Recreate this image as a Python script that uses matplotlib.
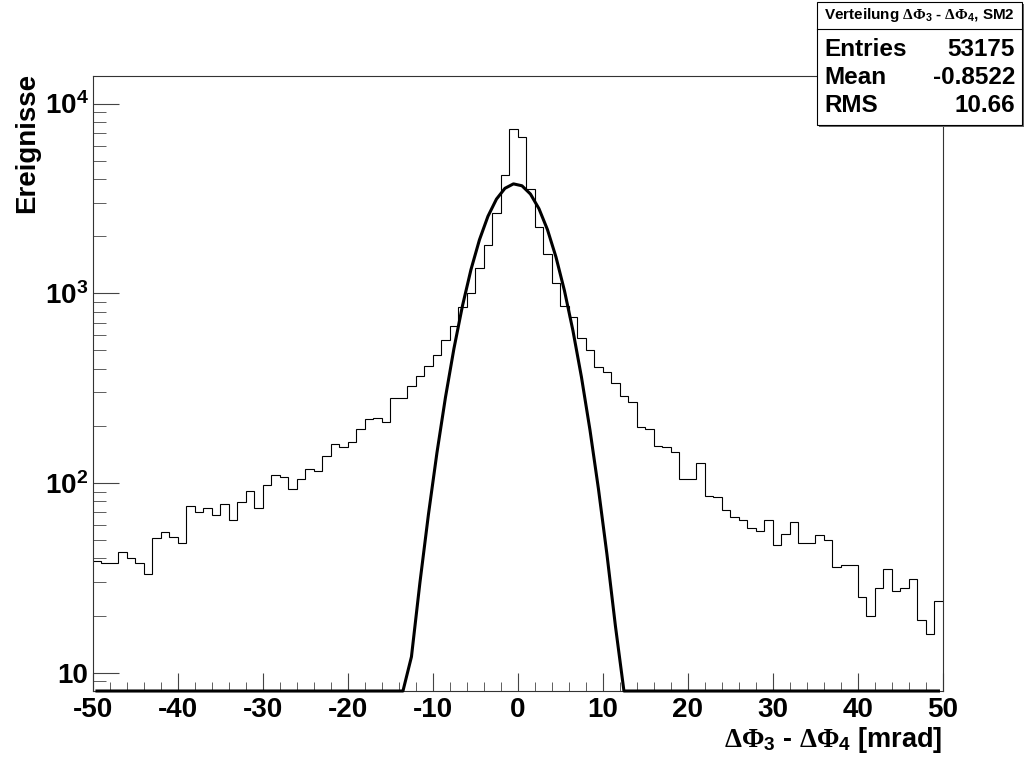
import numpy as np
import matplotlib
matplotlib.use("Agg")
import matplotlib.pyplot as plt
from matplotlib.patches import Rectangle
from matplotlib.lines import Line2D
from matplotlib.ticker import FixedLocator, LogLocator, NullFormatter, MultipleLocator

W, H = 1026, 758

plt.rcParams['font.family'] = ['Liberation Sans', 'DejaVu Sans']
plt.rcParams['font.weight'] = 'bold'
plt.rcParams['axes.unicode_minus'] = False
plt.rcParams['mathtext.fontset'] = 'custom'
plt.rcParams['mathtext.rm'] = 'Liberation Serif'
plt.rcParams['mathtext.it'] = 'Liberation Serif:italic'
plt.rcParams['mathtext.bf'] = 'Liberation Sans:bold'

# histogram: 100 bins of 1 mrad from -50 to 50
bin_edges = np.arange(-50, 51, 1)
counts = [39, 38, 38, 43, 40, 38, 33, 51, 55, 52,
          48, 76, 70, 74, 68, 77, 64, 79, 91, 74,
          98, 110, 107, 93, 105, 119, 115, 138, 160, 155,
          165, 192, 218, 221, 210, 279, 282, 325, 366, 415,
          471, 567, 673, 847, 1008, 1352, 1799, 2643, 4190, 7330,
          6700, 3533, 2244, 1606, 1130, 860, 753, 579, 502, 410,
          386, 336, 289, 268, 198, 192, 157, 155, 145, 105,
          105, 127, 85, 84, 72, 66, 64, 58, 56, 64,
          47, 54, 62, 48, 48, 53, 50, 36, 37, 37,
          25, 20, 28, 35, 27, 28, 31, 19, 16, 24]

# gaus fit
fit_amp = 3780.0
fit_mean = -0.3
fit_sigma = 3.6

stats_title = r'Verteilung $\Delta\Phi_{\mathbf{3}}$ - $\Delta\Phi_{\mathbf{4}}$, SM2'
stats_names = ['Entries', 'Mean', 'RMS']
stats_values = ['53175', '-0.8522', '10.66']

y_min, y_max = 8.0, 13980.0


def fx(px):
    return px / W


def fy(py):
    return 1 - py / H


fig = plt.figure(figsize=(W / 100, H / 100), dpi=100)
fig.patch.set_facecolor('white')
ax = fig.add_axes([fx(92.7), fy(691), (942.7 - 92.7) / W, (691 - 76) / H])

ax.stairs(counts, bin_edges, color='black', lw=0.8, baseline=None)

fit_x = np.arange(-49.5, 50, 1.0)
fit_y = fit_amp * np.exp(-0.5 * ((fit_x - fit_mean) / fit_sigma) ** 2)
fit_y = np.maximum(fit_y, y_min)
ax.plot(fit_x, fit_y, color='black', lw=2.2, solid_joinstyle='round', clip_on=False, zorder=5)

ax.set_yscale('log')
ax.set_xlim(-50, 50)
ax.set_ylim(y_min, y_max)

ax.xaxis.set_major_locator(MultipleLocator(10))
ax.xaxis.set_minor_locator(MultipleLocator(2))
ax.yaxis.set_major_locator(FixedLocator([10, 100, 1000, 10000]))
ax.yaxis.set_minor_locator(LogLocator(base=10, subs=np.arange(2, 10)))
ax.yaxis.set_minor_formatter(NullFormatter())
ax.set_yticklabels(['10', r'$\mathbf{10^{2}}$', r'$\mathbf{10^{3}}$', r'$\mathbf{10^{4}}$'])

ax.tick_params(which='both', direction='in', top=False, right=False, labelsize=20, color='#444444')
ax.tick_params(axis='x', which='major', length=13, pad=4)
ax.tick_params(axis='x', which='minor', length=6.5)
ax.tick_params(axis='y', which='major', length=18.5, pad=3)
ax.tick_params(axis='y', which='minor', length=9.2)
for lab in ax.get_xticklabels() + ax.get_yticklabels():
    lab.set_fontweight('bold')
for sp in ax.spines.values():
    sp.set_linewidth(0.8)
    sp.set_color('#333333')

fig.text(fx(27), fy(73), 'Ereignisse', rotation=90, ha='center', va='top', fontsize=20, fontweight='bold')
fig.text(fx(942), fy(740), r'$\Delta\Phi_{\mathbf{3}}$ - $\Delta\Phi_{\mathbf{4}}$ [mrad]',
         ha='right', va='center', fontsize=19.5, fontweight='bold')

# stats box
bx0, bx1, by0, by1 = 816.7, 1021.5, 1.7, 125.0
fig.patches.append(Rectangle((fx(bx0 + 2), fy(by1 + 2)), (bx1 - bx0) / W, (by1 - by0) / H,
                             transform=fig.transFigure, facecolor='#666666', edgecolor='none', zorder=9))
fig.patches.append(Rectangle((fx(bx0), fy(by1)), (bx1 - bx0) / W, (by1 - by0) / H,
                             transform=fig.transFigure, facecolor='white', edgecolor='black', lw=0.8, zorder=10))
fig.lines.append(Line2D([fx(bx0), fx(bx1)], [fy(29.3), fy(29.3)], transform=fig.transFigure,
                        color='black', lw=0.8, zorder=11))
fig.text(fx((bx0 + bx1) / 2), fy(15.5), stats_title, ha='center', va='center', fontsize=11,
         fontweight='bold', zorder=12)
row_y = [50, 78, 105]
for name, val, yy in zip(stats_names, stats_values, row_y):
    fig.text(fx(824), fy(yy), name, ha='left', va='center', fontsize=17.5, fontweight='bold', zorder=12)
    fig.text(fx(1015), fy(yy), val, ha='right', va='center', fontsize=17.5, fontweight='bold', zorder=12)

fig.savefig('out.png', dpi=100)
